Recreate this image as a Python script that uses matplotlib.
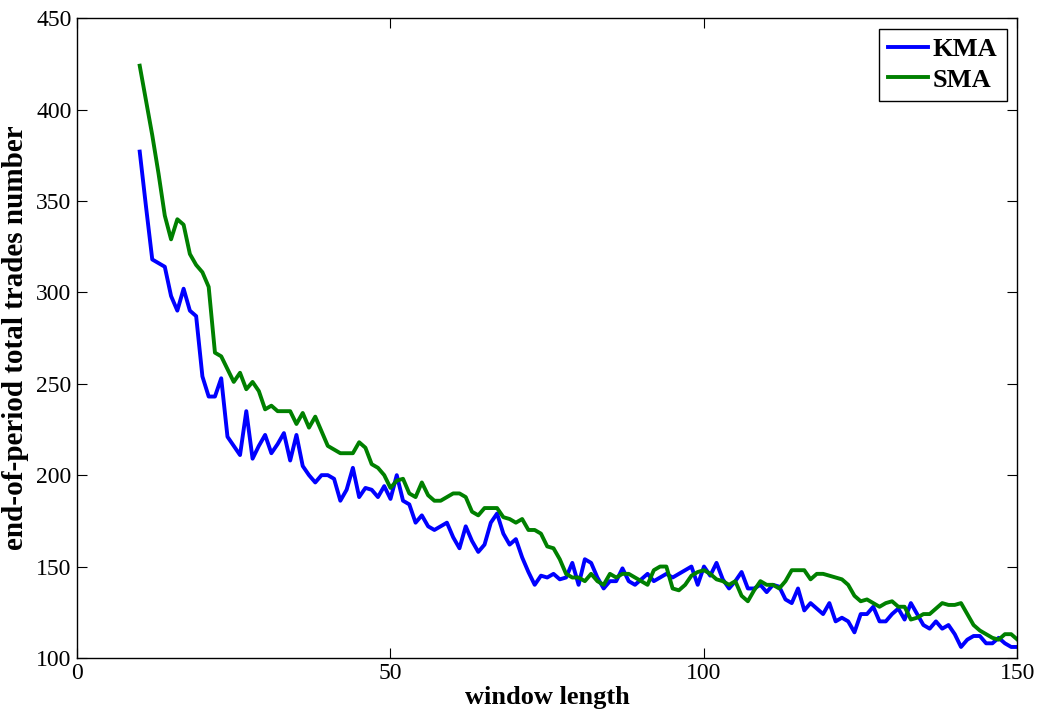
import matplotlib
matplotlib.use("Agg")
import matplotlib.pyplot as plt
import numpy as np

# window lengths 10..150
window = np.arange(10, 151)

kma = [377, 347, 318, 316, 314, 298, 290, 302, 290, 287,
       254, 243, 243, 253, 221, 216, 211, 235, 209, 216,
       222, 212, 217, 223, 208, 222, 205, 200, 196, 200,
       200, 198, 186, 192, 204, 188, 193, 192, 188, 194,
       187, 200, 186, 184, 174, 178, 172, 170, 172, 174,
       166, 160, 172, 164, 158, 162, 174, 179, 168, 162,
       165, 155, 147, 140, 145, 144, 146, 143, 144, 152,
       140, 154, 152, 144, 138, 142, 142, 149, 142, 140,
       143, 146, 142, 144, 146, 144, 146, 148, 150, 140,
       150, 145, 152, 143, 138, 142, 147, 138, 138, 140,
       136, 140, 139, 132, 130, 138, 126, 130, 127, 124,
       130, 120, 122, 120, 114, 124, 124, 128, 120, 120,
       124, 127, 121, 130, 124, 118, 116, 120, 116, 118,
       113, 106, 110, 112, 112, 108, 108, 111, 108, 106,
       106]

sma = [424, 405, 386, 365, 342, 329, 340, 337, 321, 315,
       311, 303, 267, 265, 258, 251, 256, 247, 251, 246,
       236, 238, 235, 235, 235, 228, 234, 226, 232, 224,
       216, 214, 212, 212, 212, 218, 215, 206, 204, 200,
       193, 197, 198, 190, 188, 196, 189, 186, 186, 188,
       190, 190, 188, 180, 178, 182, 182, 182, 177, 176,
       174, 176, 170, 170, 168, 161, 160, 154, 146, 144,
       144, 142, 146, 142, 140, 146, 144, 146, 146, 144,
       142, 140, 148, 150, 150, 138, 137, 140, 145, 147,
       148, 146, 143, 142, 140, 142, 134, 131, 137, 142,
       140, 140, 138, 142, 148, 148, 148, 143, 146, 146,
       145, 144, 143, 140, 134, 131, 132, 130, 128, 130,
       131, 128, 128, 121, 122, 124, 124, 127, 130, 129,
       129, 130, 124, 118, 115, 113, 111, 110, 113, 113,
       110]

plt.rcParams['font.family'] = ['Liberation Serif', 'DejaVu Serif']

fig = plt.figure(figsize=(10.38, 7.27), dpi=100)
ax = fig.add_axes([0.0742, 0.095, 0.906, 0.880])

ax.plot(window, kma, color='#0000ff', linewidth=2.8, label='KMA')
ax.plot(window, sma, color='#008000', linewidth=2.8, label='SMA')

ax.set_xlim(0, 150)
ax.set_ylim(100, 450)
ax.set_xticks([0, 50, 100, 150])
ax.set_yticks(np.arange(100, 451, 50))
ax.tick_params(direction='in', top=True, right=True, length=7, width=0.8,
               labelsize=17, pad=4)
for s in ax.spines.values():
    s.set_linewidth(1.0)

ax.set_xlabel('window length', fontsize=19, fontweight='bold', labelpad=1)
ax.set_ylabel('end-of-period total trades number', fontsize=21,
              fontweight='bold', labelpad=5)

leg = ax.legend(loc='upper right', frameon=True, fancybox=False,
                handlelength=1.5, handletextpad=0.2, borderpad=0.35,
                labelspacing=0.25, borderaxespad=0.4,
                prop={'weight': 'bold', 'size': 19})
leg.get_frame().set_edgecolor('black')
leg.get_frame().set_linewidth(1.0)
leg.get_frame().set_alpha(1.0)

fig.savefig('out.png', dpi=100)
